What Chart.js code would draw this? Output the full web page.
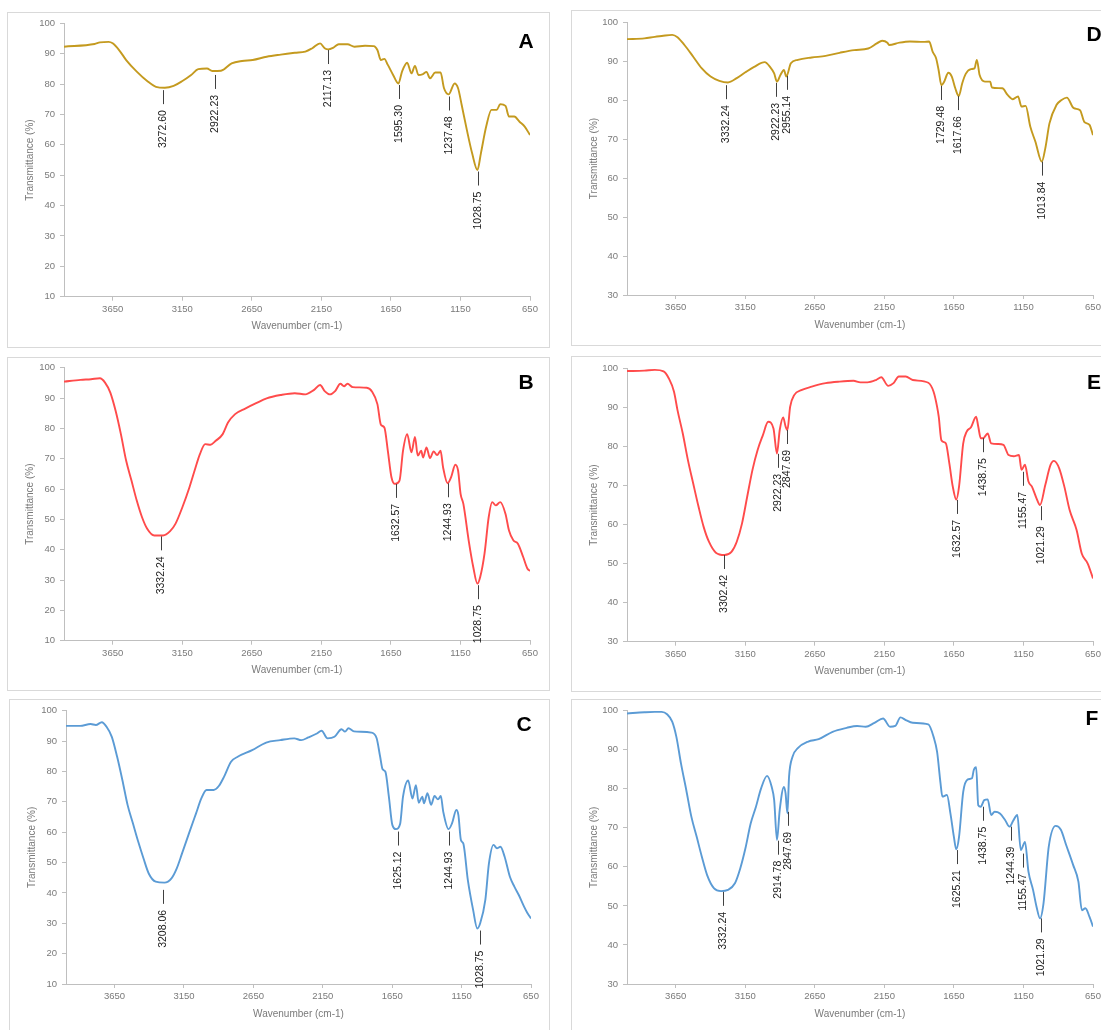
<!DOCTYPE html>
<html><head><meta charset="utf-8">
<script src="https://cdn.jsdelivr.net/npm/chart.js@4.4.0/dist/chart.umd.min.js"></script>
<style>
html,body{margin:0;padding:0;background:#fff;overflow:hidden;width:1101px;height:1030px;position:relative;}
canvas{position:absolute;}
</style></head><body>
<canvas id="cA"></canvas><canvas id="cB"></canvas><canvas id="cC"></canvas>
<canvas id="cD"></canvas><canvas id="cE"></canvas><canvas id="cF"></canvas>
<script>
// ---------- DATA ----------
const xTickValues = [3650, 3150, 2650, 2150, 1650, 1150, 650];
const xTitle = 'Wavenumber (cm-1)';
const yTitle = 'Transmittance (%)';

const waveA = [4000,3780,3742,3679,3650,3604,3553,3477,3402,3339,3275,3212,3149,3086,3035,2972,2934,2871,2795,2720,2644,2543,2442,2341,2265,2215,2159,2126,2101,2063,2025,1962,1912,1836,1773,1747,1722,1697,1672,1634,1596,1570,1533,1502,1477,1452,1419,1394,1369,1331,1293,1268,1235,1192,1167,1141,1104,1066,1028,1003,965,927,889,864,826,801,763,725,688,650];
const transA = [92.3,93.2,93.7,93.9,93.4,91.2,87.9,84.1,81.0,79.1,78.8,79.4,81.0,83.0,84.9,85.1,84.3,84.4,86.8,87.6,87.9,89.0,89.7,90.3,90.7,91.8,93.4,91.8,91.4,92.0,93.1,93.1,92.3,92.6,92.5,91.2,87.9,88.3,86.3,83.0,80.2,84.1,87.0,83.5,86.0,83.0,83.3,84.0,81.9,83.8,83.8,78.6,76.6,80.2,78.6,73.1,64.9,57.2,51.7,57.2,66.0,71.5,71.5,73.4,72.8,69.3,69.3,67.6,66.0,63.2];
const peakPosA = [3290, 2912, 2100, 1593, 1233, 1022];
const peakTopA = [78.0, 83.0, 91.2, 79.7, 75.9, 51.2];
const peakLabelA = ['3272.60','2922.23','2117.13','1595.30','1237.48','1028.75'];

const waveB = [4000,3881,3806,3742,3705,3667,3629,3591,3553,3515,3477,3439,3402,3351,3288,3237,3199,3149,3098,3061,3023,2985,2947,2909,2859,2821,2770,2694,2619,2543,2442,2341,2265,2202,2159,2126,2088,2051,2013,1987,1962,1924,1823,1785,1747,1722,1697,1672,1646,1621,1588,1563,1533,1502,1477,1457,1432,1419,1394,1369,1343,1318,1293,1275,1242,1217,1187,1167,1149,1129,1091,1058,1028,1008,977,947,922,896,864,826,801,770,737,699,669,650];
const transB = [95.4,96.0,96.2,96.5,95.1,91.8,85.8,78.1,69.3,62.8,56.2,50.7,46.9,44.7,44.7,46.1,48.5,54.0,60.6,66.1,71.5,74.8,74.6,75.9,78.1,81.9,84.7,86.6,88.3,89.9,91.0,91.6,91.2,92.7,94.3,92.3,91.2,92.3,94.7,93.9,94.7,93.6,93.4,92.1,88.0,81.2,80.3,72.6,63.9,61.7,62.8,72.6,78.1,72.1,77.2,71.0,72.6,70.4,73.7,70.2,72.4,71.2,72.6,67.2,61.9,63.9,68.0,66.1,58.4,55.1,43.1,34.3,28.8,31.0,38.7,50.7,55.7,54.6,55.7,51.8,46.3,43.1,42.0,37.6,33.8,33.0];
const peakPosB = [3300, 1615, 1240, 1025];
const peakTopB = [44.4, 61.7, 61.9, 28.3];
const peakLabelB = ['3332.24','1632.57','1244.93','1028.75'];

const waveC = [4000,3899,3823,3785,3742,3708,3670,3632,3594,3556,3518,3480,3442,3404,3354,3291,3240,3202,3164,3114,3063,3025,2988,2937,2899,2861,2811,2760,2659,2558,2457,2356,2305,2255,2192,2159,2116,2066,2015,1990,1965,1926,1800,1762,1737,1719,1699,1674,1649,1623,1593,1572,1535,1504,1479,1459,1433,1421,1396,1370,1345,1320,1300,1282,1244,1219,1188,1173,1155,1138,1105,1067,1037,1016,979,953,920,895,870,840,802,769,738,700,675,650];
const transC = [95.0,95.0,95.6,95.3,96.2,94.7,91.4,84.9,77.2,68.9,62.9,56.9,51.4,46.4,43.7,43.4,44.8,48.1,53.0,59.6,66.2,71.1,73.9,73.9,75.2,78.3,83.2,84.9,87.0,89.5,90.3,90.9,90.3,91.2,92.5,93.4,90.9,91.4,93.9,93.1,94.2,93.2,92.8,90.9,84.9,80.7,79.9,71.7,62.4,61.0,62.7,71.7,77.0,71.1,75.5,69.7,71.7,69.5,72.8,69.0,71.9,70.8,71.9,66.7,61.0,62.9,67.3,65.6,57.4,56.3,44.2,34.4,28.3,30.0,37.7,49.7,55.8,54.7,55.2,51.9,45.3,42.0,39.3,35.5,33.3,31.6];
const peakPosC = [3303, 1610, 1239, 1021];
const peakTopC = [41.0, 60.2, 60.2, 27.6];
const peakLabelC = ['3208.06','1625.12','1244.93','1028.75'];

const waveD = [4000,3875,3800,3750,3675,3637,3587,3524,3462,3399,3336,3274,3211,3149,3086,3010,2972,2942,2922,2897,2872,2855,2822,2772,2672,2572,2472,2367,2266,2204,2166,2128,2116,2041,1966,1866,1828,1803,1778,1760,1740,1720,1690,1665,1640,1615,1590,1565,1527,1502,1485,1465,1427,1389,1377,1302,1264,1226,1189,1164,1134,1101,1064,1018,993,963,913,876,838,788,743,713,675,650];
const transD = [95.6,95.8,96.2,96.4,96.7,96.1,94.1,91.1,88.1,86.0,84.9,84.5,85.6,87.1,88.5,89.7,88.5,86.8,84.7,86.4,87.7,86.0,89.4,90.3,90.9,91.3,92.1,92.8,93.2,94.5,95.2,94.7,94.1,94.7,95.0,94.9,95.0,92.4,90.7,87.7,83.8,84.7,87.0,86.0,83.0,81.0,84.3,86.7,87.9,88.1,90.3,86.4,84.7,84.7,83.2,83.0,81.3,80.2,80.9,78.3,78.5,73.2,69.3,64.2,67.6,74.0,78.7,80.0,80.6,77.9,77.4,74.4,73.6,71.0];
const peakPosD = [3290, 2930, 2852, 1740, 1617, 1018];
const peakTopD = [83.8, 84.4, 86.2, 83.6, 81.0, 64.2];
const peakLabelD = ['3332.24','2922.23','2955.14','1729.48','1617.66','1013.84'];

const waveE = [4000,3875,3800,3737,3699,3662,3637,3599,3562,3524,3486,3449,3411,3361,3299,3249,3211,3173,3136,3098,3061,3023,2985,2947,2922,2902,2877,2860,2847,2827,2797,2747,2672,2572,2472,2372,2322,2272,2210,2172,2122,2084,2046,1996,1946,1834,1796,1771,1759,1740,1708,1683,1658,1633,1613,1583,1558,1527,1490,1475,1457,1440,1407,1382,1332,1294,1257,1219,1182,1164,1139,1114,1089,1056,1031,993,956,931,893,856,818,768,731,688,650];
const transE = [99.3,99.4,99.6,99.2,97.4,94.0,89.3,83.3,76.5,70.5,64.6,59.4,55.6,52.8,52.2,53.0,55.6,60.3,67.1,74.0,79.1,82.9,86.3,84.6,78.2,84.2,87.4,85.1,84.2,90.2,93.2,94.4,95.3,96.2,96.6,96.8,96.4,96.4,97.0,97.7,95.5,96.2,97.9,97.9,97.0,96.3,94.0,90.2,87.6,81.6,80.8,75.7,69.7,66.4,69.7,80.8,83.8,84.9,87.6,85.1,82.1,82.1,83.3,80.8,80.6,80.4,77.8,77.5,77.8,74.0,75.3,71.0,69.7,66.7,65.0,70.1,75.2,76.3,74.4,69.7,63.7,58.6,52.6,50.0,46.2];
const peakPosE = [3302, 2918, 2848, 1627, 1444, 1156, 1021];
const peakTopE = [52.2, 78.1, 84.2, 66.3, 82.1, 73.5, 64.7];
const peakLabelE = ['3302.42','2922.23','2847.69','1632.57','1438.75','1155.47','1021.29'];

const waveF = [4000,3875,3800,3750,3712,3675,3645,3612,3574,3537,3499,3462,3424,3374,3324,3274,3224,3186,3149,3111,3073,3036,2993,2960,2942,2922,2902,2872,2860,2847,2835,2810,2772,2697,2622,2522,2421,2346,2284,2221,2159,2109,2071,2034,1996,1946,1834,1796,1771,1746,1733,1700,1675,1650,1633,1613,1583,1550,1520,1507,1490,1475,1457,1432,1407,1382,1357,1319,1282,1250,1224,1194,1169,1139,1114,1081,1056,1031,1006,968,918,881,843,793,755,730,705,675,650];
const transF = [99.3,99.6,99.7,99.7,99.1,97.2,93.3,86.5,79.7,72.8,67.7,62.6,57.9,54.5,53.8,54.1,55.8,59.6,64.7,71.1,75.4,80.1,83.3,80.5,77.1,66.9,74.6,80.5,78.8,73.7,83.1,88.2,90.4,92.1,92.7,94.6,95.6,96.1,95.9,96.9,98.0,95.9,96.1,98.3,97.6,96.9,96.5,93.3,89.5,81.4,78.0,78.4,73.7,67.7,64.5,67.7,79.2,82.4,82.7,84.8,85.5,75.8,75.4,77.1,77.3,73.3,74.1,73.7,72.0,70.3,71.8,73.3,64.3,66.4,58.8,54.1,49.8,46.8,50.6,65.2,70.5,69.5,65.6,60.5,56.2,48.9,49.4,47.2,44.7];
const peakPosF = [3309, 2913, 2843, 1625, 1444, 1239, 1151, 1026];
const peakTopF = [53.6, 66.7, 74.1, 64.3, 75.4, 70.3, 63.4, 46.8];
const peakLabelF = ['3332.24','2914.78','2847.69','1625.21','1438.75','1244.39','1155.47','1021.29'];

// ---------- STYLE / LAYOUT ----------
const GOLD = '#C49A1F', RED = '#FF4B4B', BLUE = '#5B9BD5';
const FONT = "'Liberation Sans', Arial, sans-serif";
Chart.defaults.font.family = FONT;

const framePlugin = {
  id: 'frame',
  beforeDraw(chart) {
    const ctx = chart.ctx;
    ctx.save();
    ctx.fillStyle = '#fff';
    ctx.fillRect(0, 0, chart.width, chart.height);
    ctx.strokeStyle = '#d9d9d9';
    ctx.lineWidth = 1;
    ctx.strokeRect(0.5, 0.5, chart.width - 1, chart.height - 1);
    ctx.restore();
  }
};

const peakPlugin = {
  id: 'peaks',
  afterDatasetsDraw(chart, args, opts) {
    const ctx = chart.ctx, xs = chart.scales.x, ys = chart.scales.y;
    ctx.save();
    for (let i = 0; i < opts.pos.length; i++) {
      const x = Math.round(xs.getPixelForValue(opts.pos[i])) + 0.5;
      const y0 = ys.getPixelForValue(opts.top[i]);
      ctx.strokeStyle = '#404040';
      ctx.lineWidth = 1;
      ctx.beginPath();
      ctx.moveTo(x, y0);
      ctx.lineTo(x, y0 + 14);
      ctx.stroke();
      ctx.save();
      ctx.translate(x, y0 + 20);
      ctx.rotate(-Math.PI / 2);
      ctx.fillStyle = '#1a1a1a';
      ctx.font = '10.5px ' + FONT;
      ctx.textAlign = 'right';
      ctx.textBaseline = 'middle';
      ctx.fillText(opts.labels[i], 0, 0);
      ctx.restore();
    }
    const L = opts.letter;
    ctx.fillStyle = '#000';
    ctx.font = 'bold 21px ' + FONT;
    ctx.textAlign = 'center';
    ctx.textBaseline = 'middle';
    ctx.fillText(L.text, L.x, L.y);
    ctx.restore();
  }
};

function makePanel(id, letter, wave, trans, color, yMin, pPos, pTop, pLab, frame, plot, lpos) {
  const cv = document.getElementById(id);
  cv.width = frame.w; cv.height = frame.h;
  cv.style.left = frame.x + 'px'; cv.style.top = frame.y + 'px';
  const padTop = plot.t - frame.y;
  const padRight = frame.x + frame.w - plot.r;
  const yAxisW = plot.l - frame.x;
  const xAxisH = frame.y + frame.h - plot.b;
  const n = Math.min(wave.length, trans.length);
  const pts = [];
  for (let i = 0; i < n; i++) pts.push({x: wave[i], y: trans[i]});
  const yTicks = [];
  for (let v = yMin; v <= 100; v += 10) yTicks.push(v);
  new Chart(cv, {
    type: 'line',
    data: { datasets: [{ data: pts, borderColor: color, borderWidth: 1.9, pointRadius: 0,
      fill: false, cubicInterpolationMode: 'monotone' }] },
    options: {
      responsive: false, animation: false, devicePixelRatio: 1,
      layout: { padding: { top: padTop, right: padRight, left: 0, bottom: 0 } },
      plugins: { legend: { display: false }, tooltip: { enabled: false },
        peaks: { pos: pPos, top: pTop, labels: pLab,
                 letter: { text: letter, x: lpos[0] - frame.x, y: lpos[1] - frame.y } } },
      scales: {
        x: {
          type: 'linear', reverse: true, min: 650, max: 4000,
          afterBuildTicks: (ax) => { ax.ticks = xTickValues.map(v => ({ value: v })); },
          afterFit: (ax) => { ax.height = xAxisH; },
          grid: { drawOnChartArea: false, drawTicks: true, tickLength: 4, color: '#bfbfbf' },
          border: { color: '#bfbfbf', width: 1 },
          ticks: { color: '#7a7a7a', font: { size: 9.5 }, padding: 3, maxRotation: 0,
                   autoSkip: false, callback: v => String(v) },
          title: { display: true, text: xTitle, color: '#7a7a7a', font: { size: 10 },
                   padding: { top: 0, bottom: xAxisH - 36 } }
        },
        y: {
          type: 'linear', min: yMin, max: 100,
          afterBuildTicks: (ax) => { ax.ticks = yTicks.map(v => ({ value: v })); },
          afterFit: (ax) => { ax.width = yAxisW; },
          grid: { drawOnChartArea: false, drawTicks: true, tickLength: 4, color: '#bfbfbf' },
          border: { color: '#bfbfbf', width: 1 },
          ticks: { color: '#7a7a7a', font: { size: 9.5 }, padding: 5, callback: v => String(v) },
          title: { display: true, text: yTitle, color: '#7a7a7a', font: { size: 10 },
                   padding: { top: 17, bottom: 0 } }
        }
      }
    },
    plugins: [framePlugin, peakPlugin]
  });
}

makePanel('cA', 'A', waveA, transA, GOLD, 10, peakPosA, peakTopA, peakLabelA,
  {x:7, y:12, w:543, h:336}, {l:64, t:23.3, r:530, b:296.7}, [526, 42]);
makePanel('cB', 'B', waveB, transB, RED, 10, peakPosB, peakTopB, peakLabelB,
  {x:7, y:357, w:543, h:334}, {l:64, t:366.7, r:530, b:640.7}, [526, 383]);
makePanel('cC', 'C', waveC, transC, BLUE, 10, peakPosC, peakTopC, peakLabelC,
  {x:9, y:699, w:541, h:336}, {l:66, t:710.7, r:531, b:984}, [524, 725]);
makePanel('cD', 'D', waveD, transD, GOLD, 30, peakPosD, peakTopD, peakLabelD,
  {x:571, y:10, w:540, h:336}, {l:627, t:22, r:1093, b:295}, [1094, 35]);
makePanel('cE', 'E', waveE, transE, RED, 30, peakPosE, peakTopE, peakLabelE,
  {x:571, y:356, w:540, h:336}, {l:627, t:368.3, r:1093, b:641.7}, [1094, 383]);
makePanel('cF', 'F', waveF, transF, BLUE, 30, peakPosF, peakTopF, peakLabelF,
  {x:571, y:699, w:540, h:336}, {l:627, t:710.7, r:1093, b:984}, [1092, 719]);
</script>
</body></html>
